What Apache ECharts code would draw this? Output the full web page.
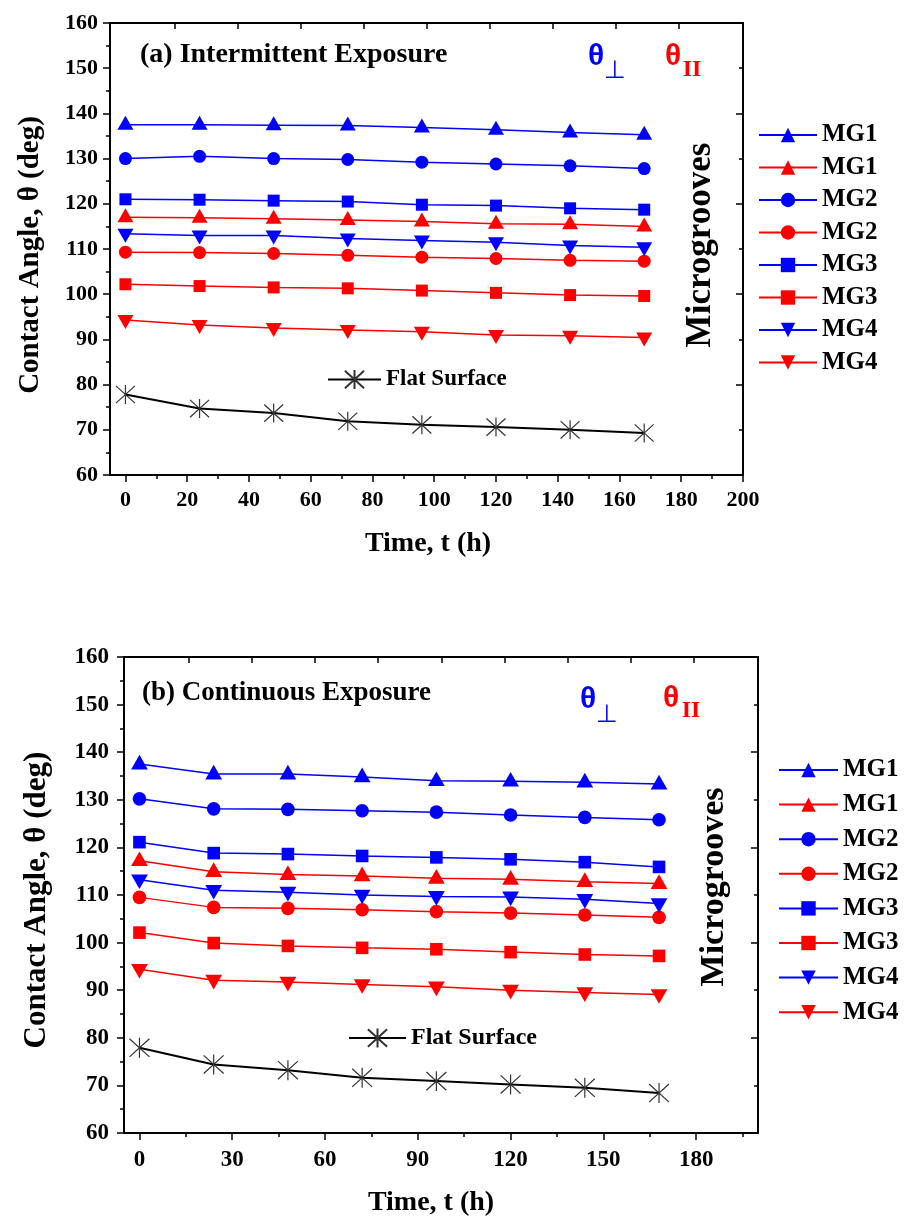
<!DOCTYPE html>
<html><head><meta charset="utf-8">
<script src="https://cdn.jsdelivr.net/npm/echarts@6/dist/echarts.min.js"></script>
<style>html,body{margin:0;padding:0;background:#fff}#c{width:907px;height:1218px}</style>
</head><body><div id="c"></div>
<script>
// ---------------- data ----------------
const timeH = [0, 24, 48, 72, 96, 120, 144, 168];
const legendLabels = ['MG1', 'MG1', 'MG2', 'MG2', 'MG3', 'MG3', 'MG4', 'MG4'];
const flatLabel = 'Flat Surface';

// (a) Intermittent exposure
const a_perp_MG1 = [137.5, 137.5, 137.4, 137.3, 136.9, 136.4, 135.8, 135.3];
const a_par_MG1  = [117.0, 116.9, 116.7, 116.4, 116.1, 115.6, 115.5, 115.0];
const a_perp_MG2 = [130.0, 130.5, 130.0, 129.8, 129.2, 128.8, 128.4, 127.8];
const a_par_MG2  = [109.3, 109.2, 109.0, 108.6, 108.2, 107.9, 107.5, 107.3];
const a_perp_MG3 = [121.0, 120.9, 120.7, 120.5, 119.8, 119.6, 119.0, 118.7];
const a_par_MG3  = [102.2, 101.8, 101.5, 101.3, 100.8, 100.3, 99.8, 99.6];
const a_perp_MG4 = [113.4, 113.0, 113.0, 112.3, 111.9, 111.5, 110.8, 110.4];
const a_par_MG4  = [94.3, 93.2, 92.5, 92.1, 91.7, 91.0, 90.8, 90.4];
const a_flat     = [77.8, 74.7, 73.7, 71.9, 71.1, 70.6, 70.0, 69.3];

// (b) Continuous exposure
const b_perp_MG1 = [137.5, 135.4, 135.4, 134.8, 134.0, 133.9, 133.7, 133.3];
const b_par_MG1  = [117.2, 114.9, 114.3, 114.0, 113.5, 113.3, 112.8, 112.4];
const b_perp_MG2 = [130.2, 128.1, 128.0, 127.7, 127.4, 126.8, 126.3, 125.8];
const b_par_MG2  = [109.5, 107.4, 107.2, 106.9, 106.5, 106.2, 105.8, 105.3];
const b_perp_MG3 = [121.1, 118.8, 118.6, 118.2, 117.9, 117.5, 116.9, 115.9];
const b_par_MG3  = [102.1, 99.9, 99.3, 98.9, 98.6, 98.0, 97.5, 97.2];
const b_perp_MG4 = [113.2, 111.0, 110.6, 110.0, 109.7, 109.6, 109.1, 108.2];
const b_par_MG4  = [94.4, 92.1, 91.7, 91.2, 90.7, 90.0, 89.5, 89.1];
const b_flat     = [77.9, 74.4, 73.2, 71.6, 70.9, 70.2, 69.5, 68.4];

// tick labels
const xMajorA = [0, 20, 40, 60, 80, 100, 120, 140, 160, 180, 200];
const xMinorA = [10, 30, 50, 70, 90, 110, 130, 150, 170, 190];
const xMajorB = [0, 30, 60, 90, 120, 150, 180];
const xMinorB = [15, 45, 75, 105, 135, 165, 195];
const xTopTicks = [16, 36.4, 56.8, 77.2, 97.6, 118, 138.4, 158.8, 179.2];

// ---------------- styling ----------------
const SERIF = '"Liberation Serif", "Times New Roman", serif';
const SANS = '"Liberation Sans", Arial, sans-serif';
const BLUE = '#0000ff', RED = '#ff0000';
const UP = 'triangle';
const DOWN = 'path://M0,0L2,0L1,1.732Z';
const STAR = 'path://M0,0L20,20M0,20L20,0M10,-1L10,21';

const panels = [
  { tag: 'a', grid: { left: 110, top: 23, width: 633, height: 452 },
    xMajor: xMajorA, xMinor: xMinorA, fs: 22, xMargin: 14, yMargin: 12, scale: 1,
    sets: [a_perp_MG1, a_par_MG1, a_perp_MG2, a_par_MG2, a_perp_MG3, a_par_MG3, a_perp_MG4, a_par_MG4],
    flat: a_flat,
    legend: { left: 758, top: 122.5, itemWidth: 58, gap: 7.5, textGap: 10, fs: 25 },
    flatLegend: { left: 327, top: 368, itemWidth: 53, textGap: 6, fs: 23 } },
  { tag: 'b', grid: { left: 124, top: 657, width: 634, height: 476 },
    xMajor: xMajorB, xMinor: xMinorB, fs: 23, xMargin: 16, yMargin: 15, scale: 1.05,
    sets: [b_perp_MG1, b_par_MG1, b_perp_MG2, b_par_MG2, b_perp_MG3, b_par_MG3, b_perp_MG4, b_par_MG4],
    flat: b_flat,
    legend: { left: 778, top: 757.5, itemWidth: 59, gap: 9.6, textGap: 10, fs: 25 },
    flatLegend: { left: 348, top: 1026, itemWidth: 57, textGap: 5, fs: 24 } }
];

const styleDefs = [
  { color: BLUE, symbol: UP, size: [16, 14], off: [0, -2] },
  { color: RED, symbol: UP, size: [16, 14], off: [0, -2] },
  { color: BLUE, symbol: 'circle', size: 13, off: [0, 0] },
  { color: RED, symbol: 'circle', size: 13, off: [0, 0] },
  { color: BLUE, symbol: 'rect', size: 12, off: [0, 0] },
  { color: RED, symbol: 'rect', size: 12, off: [0, 0] },
  { color: BLUE, symbol: DOWN, size: [16, 14], off: [0, 2] },
  { color: RED, symbol: DOWN, size: [16, 14], off: [0, 2] }
];

const grids = [], xAxes = [], yAxes = [], series = [], legends = [];
const labelMap = {};

panels.forEach((p, gi) => {
  grids.push(p.grid);
  const labelFont = { fontFamily: SERIF, fontWeight: 'bold', fontSize: p.fs, color: '#000' };
  const axLine = { show: true, onZero: false, lineStyle: { color: '#000', width: 2 } };
  // bottom x (major + labels)
  xAxes.push({ type: 'value', gridIndex: gi, min: -5, max: 200, position: 'bottom',
    axisLine: axLine, splitLine: { show: false },
    axisTick: { show: true, customValues: p.xMajor, length: 7, lineStyle: { color: '#000', width: 1.5 } },
    axisLabel: Object.assign({ customValues: p.xMajor, margin: p.xMargin }, labelFont) });
  const xMainIdx = xAxes.length - 1;
  // bottom x minor ticks
  xAxes.push({ type: 'value', gridIndex: gi, min: -5, max: 200, position: 'bottom',
    axisLine: { show: false, onZero: false }, splitLine: { show: false },
    axisTick: { show: true, customValues: p.xMinor, length: 4, lineStyle: { color: '#000', width: 1.5 } },
    axisLabel: { show: false } });
  // top x frame
  xAxes.push({ type: 'value', gridIndex: gi, min: -5, max: 200, position: 'top',
    axisLine: axLine, splitLine: { show: false },
    axisTick: { show: true, inside: true, customValues: xTopTicks, length: 6, lineStyle: { color: '#000', width: 1.5 } },
    axisLabel: { show: false } });
  // left y
  yAxes.push({ type: 'value', gridIndex: gi, min: 60, max: 160, interval: 10, position: 'left',
    axisLine: axLine, splitLine: { show: false },
    axisTick: { show: true, length: 7, lineStyle: { color: '#000', width: 1.5 } },
    minorTick: { show: true, splitNumber: 2, length: 4, lineStyle: { color: '#000', width: 1.5 } },
    minorSplitLine: { show: false },
    axisLabel: Object.assign({ margin: p.yMargin }, labelFont) });
  const yMainIdx = yAxes.length - 1;
  // right y frame
  yAxes.push({ type: 'value', gridIndex: gi, min: 60, max: 160, interval: 20, position: 'right',
    axisLine: axLine, splitLine: { show: false },
    axisTick: { show: true, inside: true, length: 7, lineStyle: { color: '#000', width: 1.5 } },
    minorTick: { show: true, splitNumber: 2, length: 4, lineStyle: { color: '#000', width: 1.5 } },
    minorSplitLine: { show: false },
    axisLabel: { show: false } });

  const names = [];
  p.sets.forEach((vals, i) => {
    const sd = styleDefs[i];
    const name = p.tag + '_' + i;
    labelMap[name] = legendLabels[i];
    names.push(name);
    const sz = Array.isArray(sd.size) ? sd.size.map(v => v * p.scale) : sd.size * p.scale;
    series.push({ type: 'line', name, xAxisIndex: xMainIdx, yAxisIndex: yMainIdx,
      data: timeH.map((t, k) => [t, vals[k]]),
      color: sd.color, symbol: sd.symbol, symbolSize: sz, symbolOffset: sd.off,
      showAllSymbol: true,
      lineStyle: { color: sd.color, width: 1.5 },
      itemStyle: { color: sd.color },
      animation: false, z: 3 });
  });
  const flatName = p.tag + '_flat';
  labelMap[flatName] = flatLabel;
  series.push({ type: 'line', name: flatName, xAxisIndex: xMainIdx, yAxisIndex: yMainIdx,
    data: timeH.map((t, k) => [t, p.flat[k]]),
    color: '#000', symbol: STAR, symbolSize: 19 * p.scale,
    lineStyle: { color: '#000', width: 2 },
    itemStyle: { color: '#000', borderColor: '#333', borderWidth: 1.2 },
    animation: false, z: 3 });

  legends.push({ data: names, orient: 'vertical', left: p.legend.left, top: p.legend.top, padding: 0,
    itemWidth: p.legend.itemWidth, itemHeight: 18, itemGap: p.legend.gap, itemTextGap: p.legend.textGap,
    selectedMode: false, formatter: n => labelMap[n],
    textStyle: { fontFamily: SERIF, fontWeight: 'bold', fontSize: p.legend.fs, color: '#000' } });
  legends.push({ data: [flatName], orient: 'horizontal', left: p.flatLegend.left, top: p.flatLegend.top, padding: 0,
    itemWidth: p.flatLegend.itemWidth, itemHeight: 24, itemTextGap: p.flatLegend.textGap,
    selectedMode: false, formatter: n => labelMap[n],
    textStyle: { fontFamily: SERIF, fontWeight: 'bold', fontSize: p.flatLegend.fs, color: '#000' } });
});

function txt(text, x, y, size, opts) {
  opts = opts || {};
  return { type: 'text', x, y, rotation: opts.rot || 0, z: 10,
    style: { text, fill: opts.color || '#000', fontFamily: opts.family || SERIF,
      fontWeight: opts.weight || 'bold', fontSize: size,
      align: opts.align || 'center', verticalAlign: 'middle' } };
}

const graphics = [
  txt('(a) Intermittent Exposure', 140, 55, 28, { align: 'left' }),
  txt('(b) Continuous Exposure', 142, 693, 27, { align: 'left' }),
  txt('Time, t (h)', 428, 544, 28),
  txt('Time, t (h)', 431, 1203, 28),
  txt('Contact Angle, \u03b8 (deg)', 31, 255, 29, { rot: Math.PI / 2 }),
  txt('Contact Angle, \u03b8 (deg)', 37, 900, 31, { rot: Math.PI / 2 }),
  txt('Microgrooves', 701, 245, 35, { rot: Math.PI / 2 }),
  txt('Microgrooves', 714, 887, 34, { rot: Math.PI / 2 }),
  // theta symbols (a)
  txt('\u03b8', 596, 57, 30, { color: BLUE, family: SANS }),
  txt('\u22a5', 615, 71, 25, { color: BLUE, family: '"DejaVu Sans", sans-serif', weight: 'normal' }),
  txt('\u03b8', 673, 57, 30, { color: RED, family: SANS }),
  txt('II', 692, 70, 24, { color: RED }),
  // theta symbols (b)
  txt('\u03b8', 588, 700, 30, { color: BLUE, family: SANS }),
  txt('\u22a5', 607, 715, 25, { color: BLUE, family: '"DejaVu Sans", sans-serif', weight: 'normal' }),
  txt('\u03b8', 671, 699, 30, { color: RED, family: SANS }),
  txt('II', 691, 711, 24, { color: RED })
];

const chart = echarts.init(document.getElementById('c'), null, { renderer: 'canvas' });
chart.setOption({
  backgroundColor: '#fff',
  animation: false,
  grid: grids,
  xAxis: xAxes,
  yAxis: yAxes,
  legend: legends,
  series,
  graphic: graphics
});
</script>
</body></html>
